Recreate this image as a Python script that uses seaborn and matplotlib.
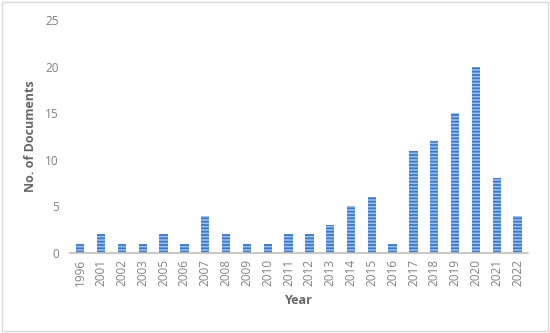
import pandas as pd
import seaborn as sns
import matplotlib.pyplot as plt
from matplotlib.patches import Rectangle

years = ["1996", "2001", "2002", "2003", "2005", "2006", "2007", "2008", "2009", "2010", "2011",
         "2012", "2013", "2014", "2015", "2016", "2017", "2018", "2019", "2020", "2021", "2022"]
docs = [1, 2, 1, 1, 2, 1, 4, 2, 1, 1, 2, 2, 3, 5, 6, 1, 11, 12, 15, 20, 8, 4]

df = pd.DataFrame({"Year": years, "Documents": docs})

sns.set_theme(style="white")
plt.rcParams["font.family"] = ["Open Sans", "DejaVu Sans"]
plt.rcParams["hatch.linewidth"] = 1.3

fig = plt.figure(figsize=(5.5, 3.33), dpi=100)
ax = fig.add_axes([0.127, 0.24, 0.833, 0.70])

sns.barplot(data=df, x="Year", y="Documents", ax=ax, color="#9dc0ee", width=0.4,
            saturation=1, edgecolor="#3a79cf", linewidth=0, hatch="-----")

ax.set_ylim(0, 25)
ax.set_yticks(range(0, 26, 5))
ax.set_xlim(-0.5, len(years) - 0.5)
tick_grey = "#808080"
grey = "#666666"
ax.tick_params(axis="x", labelrotation=90, labelsize=8.5, colors=tick_grey, length=0, pad=4)
ax.tick_params(axis="y", labelsize=8.5, colors=tick_grey, length=0, pad=8)
for s in ["top", "right", "left"]:
    ax.spines[s].set_visible(False)
ax.spines["bottom"].set_color("#bfbfbf")
ax.spines["bottom"].set_linewidth(1.2)
ax.set_xlabel("Year", fontsize=9, fontweight="bold", color=grey, labelpad=6)
ax.set_ylabel("No. of Documents", fontsize=9, fontweight="bold", color=grey, labelpad=6)

fig.patches.append(Rectangle((0.003, 0.005), 0.994, 0.99, transform=fig.transFigure,
                             fill=False, edgecolor="#d9d9d9", linewidth=1))

fig.savefig("out.png", dpi=100)
